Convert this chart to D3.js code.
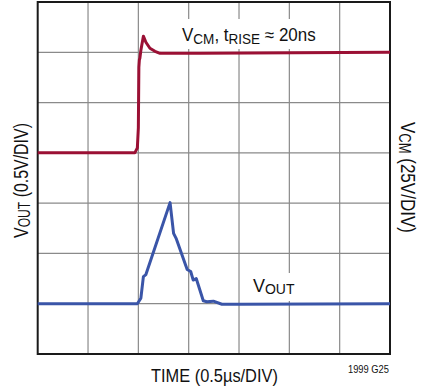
<!DOCTYPE html>
<html>
<head>
<meta charset="utf-8">
<script src="https://cdn.jsdelivr.net/npm/d3@7"></script>
<style>
  body { margin: 0; background: #fff; }
  text { font-family: "Liberation Sans", Arial, sans-serif; fill: #111; }
</style>
</head>
<body>
<script>
// Scope trace, both axes in divisions (7 x 7 grid)
var vcmTime = [0, 1.93, 1.98, 2.0, 2.01, 2.02, 2.03, 2.05, 2.10, 2.15, 2.23, 2.33, 2.43, 3.23, 7];
var vcmDiv  = [4.0, 4.0, 4.1, 4.5, 5.7, 5.85, 5.88, 6.04, 6.32, 6.2, 6.08, 6.02, 5.98, 5.98, 6.0];

var voutTime = [0, 1.98, 2.05, 2.10, 2.15, 2.63, 2.70, 2.75, 2.97, 3.04, 3.09, 3.15, 3.29, 3.36, 3.49, 3.66, 4.0, 7];
var voutDiv  = [1.0, 1.0, 1.11, 1.54, 1.58, 3.01, 2.40, 2.30, 1.68, 1.64, 1.47, 1.50, 1.06, 1.04, 1.05, 0.99, 0.99, 1.0];

var gridDivs = [1, 2, 3, 4, 5, 6];

var w = 422, h = 389;
var svg = d3.select('body').append('svg')
  .attr('width', w)
  .attr('height', h);

var x = d3.scaleLinear().domain([0, 7]).range([37.7, 390]);
var y = d3.scaleLinear().domain([0, 7]).range([354, 2]);

// grid
var grid = svg.append('g')
  .attr('stroke', '#8a8a8a')
  .attr('stroke-width', 1.2);
grid.selectAll('.vg').data(gridDivs).enter().append('line')
  .attr('x1', d => x(d)).attr('x2', d => x(d))
  .attr('y1', y(0)).attr('y2', y(7));
grid.selectAll('.hg').data(gridDivs).enter().append('line')
  .attr('y1', d => y(d)).attr('y2', d => y(d))
  .attr('x1', x(0)).attr('x2', x(7));

// white patches behind the in-plot labels
svg.append('rect').attr('x', 178).attr('y', 19).attr('width', 142).attr('height', 30).attr('fill', '#fff');
svg.append('rect').attr('x', 249).attr('y', 273).attr('width', 49).attr('height', 28).attr('fill', '#fff');

// frame
svg.append('rect')
  .attr('x', x(0)).attr('y', y(7))
  .attr('width', x(7) - x(0)).attr('height', y(0) - y(7))
  .attr('fill', 'none')
  .attr('stroke', '#1a1a1a')
  .attr('stroke-width', 2);

var line = d3.line()
  .x(d => x(d[0]))
  .y(d => y(d[1]));

svg.append('path')
  .datum(d3.zip(vcmTime, vcmDiv))
  .attr('d', line)
  .attr('fill', 'none')
  .attr('stroke', '#9b1034')
  .attr('stroke-width', 3)
  .attr('stroke-linejoin', 'round');

svg.append('path')
  .datum(d3.zip(voutTime, voutDiv))
  .attr('d', line)
  .attr('fill', 'none')
  .attr('stroke', '#3a55a8')
  .attr('stroke-width', 3)
  .attr('stroke-linejoin', 'round');

// text with subscripts, squeezed to a condensed width
// (no narrow font here, so scale the glyphs horizontally)
function label(pos, parts, size, subSize, width, anchor) {
  var g = svg.append('g');
  var t = g.append('text').attr('font-size', size);
  parts.forEach(function(p) {
    t.append('tspan')
      .attr('font-size', p.sub ? subSize : size)
      .attr('dy', p.dy || 0)
      .text(p.t);
  });
  var bw = t.node().getBBox().width;
  var s = width / bw;
  var shift = anchor === 'middle' ? -bw / 2 : anchor === 'end' ? -bw : 0;
  t.attr('x', shift);
  g.attr('transform', pos + ' scale(' + s + ',1)');
  return g;
}

label('translate(182,41)', [
  {t: 'V'}, {t: 'CM', sub: true, dy: 3}, {t: ', t', dy: -3},
  {t: 'RISE', sub: true, dy: 3}, {t: ' \u2248 20ns', dy: -3}
], 17.5, 14, 134);

label('translate(253,292)', [
  {t: 'V'}, {t: 'OUT', sub: true, dy: 2}
], 18, 14, 42);

label('translate(28,238) rotate(-90)', [
  {t: 'V'}, {t: 'OUT', sub: true, dy: 2}, {t: ' (0.5V/DIV)', dy: -2}
], 21, 16, 115);

label('translate(401,122) rotate(90)', [
  {t: 'V'}, {t: 'CM', sub: true, dy: 2}, {t: ' (25V/DIV)', dy: -2}
], 21, 16, 111);

label('translate(214.5,382)', [{t: 'TIME (0.5\u00b5s/DIV)'}], 19, 19, 127, 'middle');

label('translate(389,373)', [{t: '1999 G25'}], 11, 11, 41, 'end');
</script>
</body>
</html>
